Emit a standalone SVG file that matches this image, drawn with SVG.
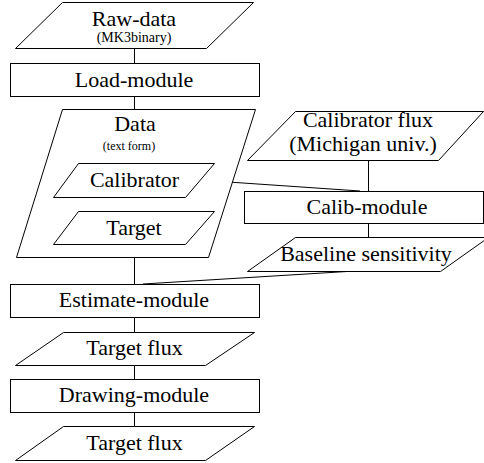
<svg xmlns="http://www.w3.org/2000/svg" width="484" height="463" viewBox="0 0 484 463">
<style>
.s{fill:#fff;stroke:#000;stroke-width:1}
.c{fill:none;stroke:#000;stroke-width:1}
text{fill:#000;text-anchor:middle;font-family:"Times New Roman","Liberation Serif","Noto Serif","DejaVu Serif",FreeSerif,Tinos,Times,serif}
.t{font-size:22px}
.sm{font-size:14px}
.xs{font-size:12px}
</style>
<rect width="484" height="463" fill="#fff"/>
<g id="connectors">
<line class="c" x1="134.5" y1="48" x2="134.5" y2="63"/>
<line class="c" x1="134.5" y1="96" x2="134.5" y2="109"/>
<line class="c" x1="134.5" y1="244" x2="134.5" y2="284"/>
<line class="c" x1="134.5" y1="317" x2="134.5" y2="332"/>
<line class="c" x1="134.5" y1="365" x2="134.5" y2="379"/>
<line class="c" x1="134.5" y1="412" x2="134.5" y2="426"/>
<line class="c" x1="368.5" y1="160" x2="368.5" y2="191"/>
<line class="c" x1="368.5" y1="223" x2="368.5" y2="237"/>
<line class="c" x1="199" y1="180" x2="360" y2="191"/>
<line class="c" x1="355" y1="271" x2="143" y2="284"/>
</g>
<g id="raw-data">
<polygon class="s" points="62.5,2.5 253.5,2.5 206.5,48.5 15.5,48.5"/>
<text class="t" x="134" y="26">Raw-data</text>
<text class="sm" x="134" y="42">(MK3binary)</text>
</g>
<g id="load-module">
<rect class="s" x="10.5" y="63.5" width="249" height="33"/>
<text class="t" x="134" y="87">Load-module</text>
</g>
<g id="data">
<polygon class="s" points="62.5,109.5 255.5,109.5 208.5,257.5 16.5,257.5"/>
<text class="t" x="135" y="131">Data</text>
<text class="xs" x="129" y="150">(text form)</text>
</g>
<g id="calibrator">
<polygon class="s" points="78.5,163.5 214.5,163.5 185.5,197.5 53.5,197.5"/>
<text class="t" x="134.5" y="187">Calibrator</text>
</g>
<g id="target">
<polygon class="s" points="78.5,211.5 214.5,211.5 185.5,244.5 53.5,244.5"/>
<text class="t" x="134" y="235">Target</text>
</g>
<g id="calibrator-flux">
<polygon class="s" points="295.5,111.5 483.5,111.5 438.5,160.5 247.5,160.5"/>
<text class="t" x="368" y="127">Calibrator flux</text>
<text class="t" x="363" y="151">(Michigan univ.)</text>
</g>
<g id="calib-module">
<rect class="s" x="244.5" y="191.5" width="239" height="32"/>
<text class="t" x="367" y="214">Calib-module</text>
</g>
<g id="baseline-sensitivity">
<polygon class="s" points="295.5,237.5 488.5,237.5 440.5,271.5 247.5,271.5"/>
<text class="t" x="366" y="261">Baseline sensitivity</text>
</g>
<g id="estimate-module">
<rect class="s" x="10.5" y="284.5" width="249" height="33"/>
<text class="t" x="134" y="307">Estimate-module</text>
</g>
<g id="target-flux-1">
<polygon class="s" points="63.5,332.5 254.5,332.5 205.5,365.5 15.5,365.5"/>
<text class="t" x="134.5" y="355">Target flux</text>
</g>
<g id="drawing-module">
<rect class="s" x="10.5" y="379.5" width="249" height="33"/>
<text class="t" x="134" y="402">Drawing-module</text>
</g>
<g id="target-flux-2">
<polygon class="s" points="63.5,426.5 254.5,426.5 205.5,460.5 15.5,460.5"/>
<text class="t" x="134.5" y="450">Target flux</text>
</g>
</svg>
